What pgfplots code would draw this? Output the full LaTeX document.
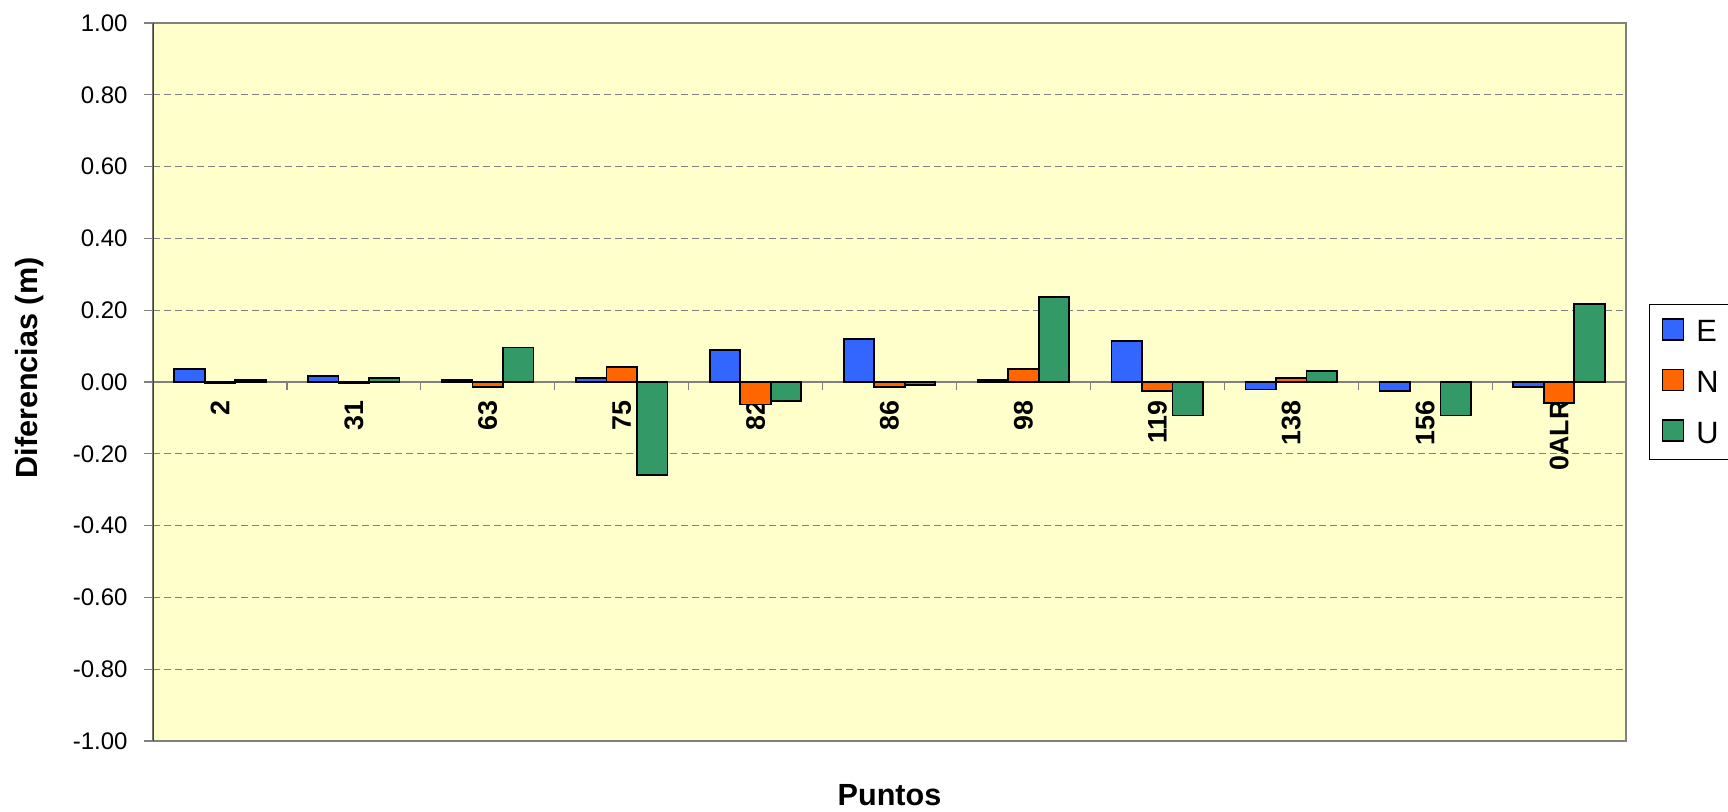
\documentclass[border=0pt]{standalone}
\usepackage{fontspec}
\setmainfont{Liberation Sans}
\usepackage{pgfplots}
\pgfplotsset{compat=1.18}
\definecolor{cE}{HTML}{3366FF}
\definecolor{cN}{HTML}{FF6600}
\definecolor{cU}{HTML}{339966}
\definecolor{bgc}{HTML}{FFFFCC}
\definecolor{framec}{HTML}{808080}
\definecolor{dframec}{HTML}{404040}
\begin{document}
\begin{tikzpicture}
\useasboundingbox (-76.5pt,-35.5pt) rectangle (787.5pt,370.5pt);
\begin{axis}[
  scale only axis, width=736.5pt, height=359pt,
  xmin=-0.5, xmax=10.5, ymin=-1, ymax=1,
  ybar=0pt, bar width=15.25pt,
  axis background/.style={fill=bgc},
  axis line style={draw=framec, line width=0.7pt},
  ytick={-1,-0.8,-0.6,-0.4,-0.2,0,0.2,0.4,0.6,0.8,1},
  ymajorgrids,
  major grid style={dash pattern=on 3.5pt off 2pt, draw=framec, line width=0.6pt},
  ytick pos=left, tick align=outside, major tick length=4.5pt,
  ytick style={draw=framec, line width=0.6pt},
  xtick={0,1,2,3,4,5,6,7,8,9,10},
  xticklabels={2,31,63,75,82,86,98,119,138,156,0ALR},
  xtick style={draw=none},
  x tick label style={rotate=90, anchor=east, inner sep=0pt, font=\bfseries\fontsize{13.4}{16}\selectfont},
  xticklabel shift=-175pt,
  yticklabel style={font=\fontsize{12}{14}\selectfont, anchor=east, inner sep=0pt, xshift=-8pt,
    /pgf/number format/.cd, fixed, fixed zerofill, precision=2, assume math mode=true},
  xlabel={Puntos}, ylabel={Diferencias (m)},
  every axis x label/.style={at={(axis description cs:0.5,-0.076)}, anchor=center, font=\bfseries\fontsize{15.3}{18}\selectfont},
  every axis y label/.style={at={(axis description cs:-0.0835,0.5195)}, rotate=90, anchor=center, font=\bfseries\fontsize{15.3}{18}\selectfont},
  legend style={draw=black, line width=0.6pt, fill=white, at={(1,0.5)}, anchor=west, xshift=11.5pt,
    font=\fontsize{15.4}{18}\selectfont, inner xsep=6pt, inner ysep=6.5pt, row sep=12pt,
    nodes={inner sep=0pt}, /tikz/every odd column/.append style={column sep=6pt}},
  legend cell align=left,
  legend image code/.code={\draw[#1, draw=black, line width=0.85pt] (0pt,-3.6pt) rectangle (10.5pt,6.9pt);},
]
\draw[framec, line width=0.75pt] (axis cs:-0.5,0) -- (axis cs:10.5,0);
\addplot[fill=cE, draw=black, line width=0.85pt] coordinates {
 (0,0.036) (1,0.017) (2,0.005) (3,0.011) (4,0.090) (5,0.120) (6,0.005) (7,0.115) (8,-0.021) (9,-0.026) (10,-0.014)};
\addplot[fill=cN, draw=black, line width=0.85pt] coordinates {
 (0,-0.003) (1,-0.003) (2,-0.014) (3,0.041) (4,-0.063) (5,-0.014) (6,0.036) (7,-0.026) (8,0.012) (10,-0.058)};
\addplot[fill=cU, draw=black, line width=0.85pt] coordinates {
 (0,0.005) (1,0.012) (2,0.096) (3,-0.259) (4,-0.052) (5,-0.009) (6,0.236) (7,-0.093) (8,0.030) (9,-0.093) (10,0.218)};
\legend{E,N,U}
\draw[framec, line width=0.6pt] (axis cs:0.5,0) -- (axis cs:0.5,-0.022);
\draw[framec, line width=0.6pt] (axis cs:1.5,0) -- (axis cs:1.5,-0.022);
\draw[framec, line width=0.6pt] (axis cs:2.5,0) -- (axis cs:2.5,-0.022);
\draw[framec, line width=0.6pt] (axis cs:3.5,0) -- (axis cs:3.5,-0.022);
\draw[framec, line width=0.6pt] (axis cs:4.5,0) -- (axis cs:4.5,-0.022);
\draw[framec, line width=0.6pt] (axis cs:5.5,0) -- (axis cs:5.5,-0.022);
\draw[framec, line width=0.6pt] (axis cs:6.5,0) -- (axis cs:6.5,-0.022);
\draw[framec, line width=0.6pt] (axis cs:7.5,0) -- (axis cs:7.5,-0.022);
\draw[framec, line width=0.6pt] (axis cs:8.5,0) -- (axis cs:8.5,-0.022);
\draw[framec, line width=0.6pt] (axis cs:9.5,0) -- (axis cs:9.5,-0.022);
\draw[framec, line width=0.6pt] (axis cs:10.5,0) -- (axis cs:10.5,-0.022);
\draw[dframec, line width=1pt] (rel axis cs:0,0) -- (rel axis cs:0,1);
\end{axis}
\end{tikzpicture}
\end{document}
